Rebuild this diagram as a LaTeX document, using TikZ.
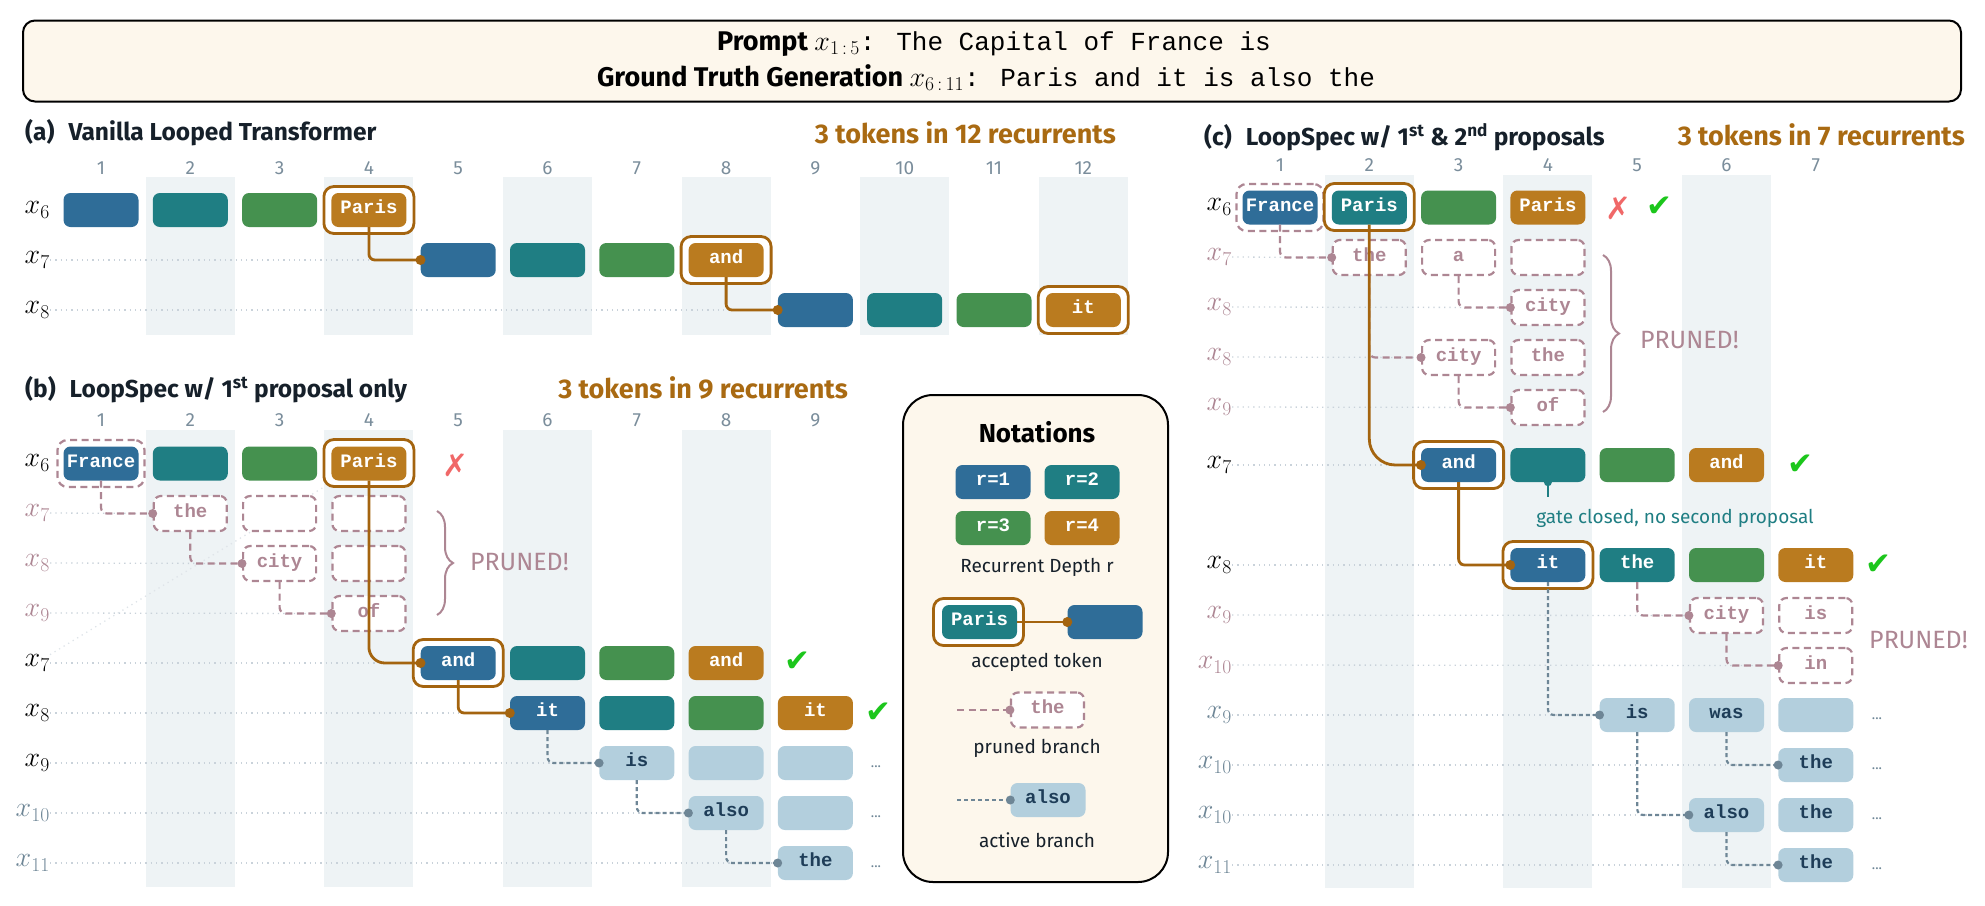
\RequirePackage{fix-cm}
\documentclass[tikz,border=0pt]{standalone}
\usepackage{fontspec}
\setmainfont{Fira Sans}
\newfontfamily\monof{Liberation Mono}
\newfontfamily\symf{DejaVu Sans}
\usetikzlibrary{decorations.pathreplacing}
\definecolor{cA}{HTML}{2F6D98}
\definecolor{cB}{HTML}{1F7E83}
\definecolor{cC}{HTML}{45914F}
\definecolor{cD}{HTML}{BA7B1F}
\definecolor{ringc}{HTML}{A4640F}
\definecolor{mauve}{HTML}{AD8693}
\definecolor{lightb}{HTML}{B3CFDD}
\definecolor{navyc}{HTML}{1E3D58}
\definecolor{agrey}{HTML}{6E8696}
\definecolor{bandc}{HTML}{EEF3F5}
\definecolor{colnumc}{HTML}{7A8D9B}
\definecolor{guidec}{HTML}{C9D2DA}
\definecolor{titlebr}{HTML}{A96A12}
\definecolor{checkc}{HTML}{1CC61C}
\definecolor{crossc}{HTML}{F06868}
\definecolor{cream}{HTML}{FDF7EC}
\definecolor{inkc}{HTML}{16202A}
\pgfdeclarelayer{bg}
\pgfdeclarelayer{mid}
\pgfsetlayers{bg,mid,main}
\newcommand\tokf{\monof\bfseries\fontsize{19}{20}\selectfont}
\newcommand\labf{\fontsize{28}{30}\selectfont}
\newcommand\colf{\fontsize{19}{20}\selectfont}
\newcommand\ttlf{\bfseries\fontsize{24.5}{26}\selectfont}
\newcommand\cntf{\bfseries\fontsize{27}{28}\selectfont}
\newcommand\prf{\fontsize{25}{26}\selectfont}
\newcommand\notf{\fontsize{19}{21}\selectfont}
\newcommand\mkf{\symf\fontsize{31}{32}\selectfont}
\newcommand\hdrf{\bfseries\fontsize{27}{29}\selectfont}
\newcommand\hdrm{\fontsize{28}{30}\selectfont}
\newcommand\hdrmono{\monof\fontsize{26}{28}\selectfont}
\begin{document}
\begin{tikzpicture}[x=1pt,y=-1pt,
  tok/.style={rounded corners=7pt, minimum width=75pt, minimum height=34pt, inner sep=0pt, font=\tokf, text=white, text height=10.5pt, text depth=3.5pt},
  r1/.style={tok, fill=cA}, r2/.style={tok, fill=cB}, r3/.style={tok, fill=cC}, r4/.style={tok, fill=cD},
  prn/.style={tok, draw=mauve, line width=2.2pt, dash pattern=on 7pt off 4.5pt, fill=white, text=mauve, minimum width=73pt, minimum height=35pt},
  actb/.style={tok, fill=lightb, text=navyc},
  ring/.style={draw=ringc, line width=2.8pt, fill=white, rounded corners=10pt, minimum width=90pt, minimum height=47pt, inner sep=0pt},
  pring/.style={draw=mauve, line width=2.2pt, dash pattern=on 7pt off 4.5pt, fill=white, rounded corners=10pt, minimum width=87pt, minimum height=47pt, inner sep=0pt},
  accl/.style={draw=ringc, line width=2.8pt},
  prl/.style={draw=mauve, line width=2.2pt, dash pattern=on 7pt off 4.5pt, rounded corners=6pt},
  actl/.style={draw=agrey, line width=2.2pt, dash pattern=on 4pt off 3pt, rounded corners=6pt},
  guide/.style={draw=guidec, line width=1.3pt, dash pattern=on 1.3pt off 4pt},
  band/.style={fill=bandc, draw=none},
  colnum/.style={text=colnumc, font=\colf, inner sep=0pt},
  rowlab/.style={anchor=east, inner sep=0pt, font=\labf, text=black},
  ttl/.style={anchor=west, font=\ttlf, text=inkc, inner sep=0pt},
  cnt/.style={anchor=east, font=\cntf, text=titlebr, inner sep=0pt},
  prun/.style={anchor=west, font=\prf, text=mauve, inner sep=0pt},
  mk/.style={font=\mkf, inner sep=0pt},
  dotsn/.style={font=\fontsize{14}{14}\selectfont, text=agrey, inner sep=0pt},
  notel/.style={font=\notf, text=inkc, inner sep=0pt},
  brc/.style={draw=mauve, line width=2pt, decorate, decoration={brace, amplitude=16pt}}
]
\useasboundingbox (0,0) rectangle (1985,905);

% ---------------- header
\node[draw=black, line width=2pt, rounded corners=12pt, fill=cream, minimum width=1938pt, minimum height=81pt, inner sep=0pt] (hdr) at (992,61) {};
\node[inner sep=0pt, anchor=base] (hl1) at (994,50) {{\hdrf Prompt }{\hdrm$x_{1\,:\,5}$}{\hdrmono: The Capital of France is}};
\node[inner sep=0pt, anchor=base] (hl2) at (986,86) {{\hdrf Ground Truth Generation }{\hdrm$x_{6\,:\,11}$}{\hdrmono: Paris and it is also the}};

% ---------------- bands
\begin{pgfonlayer}{bg}
\foreach \k in {2,4,...,12} \fill[band] ({101+89.3*(\k-1)-44.5},177) rectangle ++(89,158);
\foreach \k in {2,4,6,8} \fill[band] ({101+89.3*(\k-1)-44.5},430) rectangle ++(89,457);
\foreach \k in {2,4,6} \fill[band] ({1280+89.3*(\k-1)-44.5},175) rectangle ++(89,713);
\end{pgfonlayer}

% ---------------- panel (a)
\node[ttl] (ta) at (25,133) {(a)\hspace{14pt}Vanilla Looped Transformer};
\node[cnt] (tca) at (1116,133) {3 tokens in 12 recurrents};
\foreach \k in {1,...,12} \node[colnum] (acn\k) at ({101+89.3*(\k-1)},168) {\k};
\node[rowlab] (al6) at (50,210) {$x_{6}$};
\node[rowlab] (al7) at (50,260) {$x_{7}$};
\node[rowlab] (al8) at (50,310) {$x_{8}$};
\node[r1] (a61) at (101,210) {};
\node[r2] (a62) at (190.3,210) {};
\node[r3] (a63) at (279.6,210) {};
\node[ring] (a64r) at (368.9,210) {};
\node[r4] (a64) at (368.9,210) {Paris};
\node[r1] (a75) at (458.2,260) {};
\node[r2] (a76) at (547.5,260) {};
\node[r3] (a77) at (636.8,260) {};
\node[ring] (a78r) at (726.1,260) {};
\node[r4] (a78) at (726.1,260) {and};
\node[r1] (a89) at (815.4,310) {};
\node[r2] (a810) at (904.7,310) {};
\node[r3] (a811) at (994.0,310) {};
\node[ring] (a812r) at (1083.3,310) {};
\node[r4] (a812) at (1083.3,310) {it};
\begin{pgfonlayer}{mid}
\draw[guide] (al7.east) -- (a75.west);
\draw[guide] (al8.east) -- (a89.west);
\end{pgfonlayer}
\draw[accl, rounded corners=6pt] (a64.south) |- (a75.west);
\fill[ringc] (a75.west) circle[radius=5pt];
\draw[accl, rounded corners=6pt] (a78.south) |- (a89.west);
\fill[ringc] (a89.west) circle[radius=5pt];

% ---------------- panel (b)
\node[ttl] (tb) at (25,390) {(b)\hspace{14pt}LoopSpec w/ 1\textsuperscript{st} proposal only};
\node[cnt] (tcb) at (848,388) {3 tokens in 9 recurrents};
\foreach \k in {1,...,9} \node[colnum] (bcn\k) at ({101+89.3*(\k-1)},420) {\k};
\node[rowlab] (bl6) at (50,463) {$x_{6}$};
\node[rowlab, text=mauve] (bl7p) at (50,513) {$x_{7}$};
\node[rowlab, text=mauve] (bl8p) at (50,563) {$x_{8}$};
\node[rowlab, text=mauve] (bl9p) at (50,613) {$x_{9}$};
\node[rowlab] (bl7) at (50,663) {$x_{7}$};
\node[rowlab] (bl8) at (50,713) {$x_{8}$};
\node[rowlab] (bl9) at (50,763) {$x_{9}$};
\node[rowlab, text=agrey] (bl10) at (50,813) {$x_{10}$};
\node[rowlab, text=agrey] (bl11) at (50,863) {$x_{11}$};

\node[pring] (b61r) at (101,463.5) {};
\node[r1] (b61) at (101,463.5) {France};
\node[r2] (b62) at (190.3,463.5) {};
\node[r3] (b63) at (279.6,463.5) {};
\node[ring] (b64r) at (368.9,463) {};
\node[r4] (b64) at (368.9,463.5) {Paris};
\node[mk, text=crossc] (bx) at (455,465) {✗};
\node[prn] (pb72) at (190.3,513.5) {the};
\node[prn] (pb73) at (279.6,513.5) {};
\node[prn] (pb74) at (368.9,513.5) {};
\node[prn] (pb83) at (279.6,563.5) {city};
\node[prn] (pb84) at (368.9,563.5) {};
\node[prn] (pb94) at (368.9,613.5) {of};
\draw[brc] (437,511) -- (437,615);
\node[prun] (bpr) at (470,562) {PRUNED!};
\node[ring] (b75r) at (458.2,663) {};
\node[r1] (b75) at (458.2,663) {and};
\node[r2] (b76) at (547.5,663) {};
\node[r3] (b77) at (636.8,663) {};
\node[r4] (b78) at (726.1,663) {and};
\node[mk, text=checkc] (bc1) at (797,662) {✔};
\node[r1] (b86) at (547.5,713) {it};
\node[r2] (b87) at (636.8,713) {};
\node[r3] (b88) at (726.1,713) {};
\node[r4] (b89) at (815.4,713) {it};
\node[mk, text=checkc] (bc2) at (878,713) {✔};
\node[actb] (b97) at (636.8,763) {is};
\node[actb] (b98) at (726.1,763) {};
\node[actb] (b99) at (815.4,763) {};
\node[dotsn] (bd9) at (876,767) {...};
\node[actb] (b108) at (726.1,813) {also};
\node[actb] (b109) at (815.4,813) {};
\node[dotsn] (bd10) at (876,817) {...};
\node[actb] (b119) at (815.4,863) {the};
\node[dotsn] (bd11) at (876,867) {...};
\begin{pgfonlayer}{mid}
\draw[guide] (bl7p.east) -- (pb72.west);
\draw[guide] (bl8p.east) -- (pb83.west);
\draw[guide] (bl9p.east) -- (pb94.west);
\draw[guide] (bl7.east) -- (b75r.west);
\draw[guide] (bl8.east) -- (b86.west);
\draw[guide] (bl9.east) -- (b97.west);
\draw[guide] (bl10.east) -- (b108.west);
\draw[guide] (bl11.east) -- (b119.west);
\draw[guide, draw=guidec!60] (bl7.north east) -- (b64r.south west);
\end{pgfonlayer}
\draw[prl] (b61.south) |- (pb72.west);
\fill[mauve] (pb72.west) circle[radius=4.5pt];
\draw[prl] (pb72.south) |- (pb83.west);
\fill[mauve] (pb83.west) circle[radius=4.5pt];
\draw[prl] (pb83.south) |- (pb94.west);
\fill[mauve] (pb94.west) circle[radius=4.5pt];
\draw[accl, rounded corners=16pt] (b64.south) |- (b75.west);
\fill[ringc] (b75.west) circle[radius=5pt];
\draw[accl, rounded corners=6pt] (b75.south) |- (b86.west);
\fill[ringc] (b86.west) circle[radius=5pt];
\draw[actl] (b86.south) |- (b97.west);
\fill[agrey] (b97.west) circle[radius=4.5pt];
\draw[actl] (b97.south) |- (b108.west);
\fill[agrey] (b108.west) circle[radius=4.5pt];
\draw[actl] (b108.south) |- (b119.west);
\fill[agrey] (b119.west) circle[radius=4.5pt];

% ---------------- notations
\node[draw=black, line width=2pt, rounded corners=30pt, fill=cream, minimum width=265pt, minimum height=487pt, inner sep=0pt] (nb) at (1035.5,638.5) {};
\node[font=\bfseries\fontsize{26}{28}\selectfont, text=black, inner sep=0pt] (nt) at (1037,432) {Notations};
\node[r1] (n1) at (993,482) {r=1};
\node[r2] (n2) at (1082,482) {r=2};
\node[r3] (n3) at (993,528) {r=3};
\node[r4] (n4) at (1082,528) {r=4};
\node[notel] (nl1) at (1037,567) {Recurrent Depth r};
\node[ring] (npr) at (978.5,622) {};
\node[r2] (np) at (979.5,622) {Paris};
\node[r1] (nq) at (1105,622) {};
\draw[accl] (np.east) -- (nq.west);
\fill[ringc] (nq.west) circle[radius=5pt];
\node[notel] (nl2) at (1037,662) {accepted token};
\coordinate (ns1) at (957,710);
\node[prn] (nth) at (1047.5,710) {the};
\draw[prl] (ns1) -- (nth.west);
\fill[mauve] (nth.west) circle[radius=4.5pt];
\node[notel] (nl3) at (1037,748) {pruned branch};
\coordinate (ns2) at (957,800);
\node[actb] (nal) at (1048,800) {also};
\draw[actl] (ns2) -- (nal.west);
\fill[agrey] (nal.west) circle[radius=4.5pt];
\node[notel] (nl4) at (1037,840) {active branch};

% ---------------- panel (c)
\node[ttl] (tc) at (1204,137) {(c)\hspace{14pt}LoopSpec w/ 1\textsuperscript{st} \& 2\textsuperscript{nd} proposals};
\node[cnt] (tcc) at (1965,135) {3 tokens in 7 recurrents};
\foreach \k in {1,...,7} \node[colnum] (ccn\k) at ({1280+89.3*(\k-1)},165) {\k};
\node[rowlab] (cl6) at (1232,207) {$x_{6}$};
\node[rowlab, text=mauve] (cl7p) at (1232,257) {$x_{7}$};
\node[rowlab, text=mauve] (cl8p) at (1232,307) {$x_{8}$};
\node[rowlab, text=mauve] (cl8q) at (1232,357) {$x_{8}$};
\node[rowlab, text=mauve] (cl9p) at (1232,407) {$x_{9}$};
\node[rowlab] (cl7) at (1232,465) {$x_{7}$};
\node[rowlab] (cl8) at (1232,565) {$x_{8}$};
\node[rowlab, text=mauve] (cl9q) at (1232,615) {$x_{9}$};
\node[rowlab, text=mauve] (cl10q) at (1232,665) {$x_{10}$};
\node[rowlab, text=agrey] (cl9) at (1232,715) {$x_{9}$};
\node[rowlab, text=agrey] (cl10) at (1232,765) {$x_{10}$};
\node[rowlab, text=agrey] (cl10b) at (1232,815) {$x_{10}$};
\node[rowlab, text=agrey] (cl11) at (1232,865) {$x_{11}$};

\node[pring] (c61r) at (1280,207.5) {};
\node[r1] (c61) at (1280,207.5) {France};
\node[ring] (c62r) at (1369.3,207) {};
\node[r2] (c62) at (1369.3,207.5) {Paris};
\node[r3] (c63) at (1458.6,207.5) {};
\node[r4] (c64) at (1547.9,207.5) {Paris};
\node[mk, text=crossc] (cx) at (1618,208) {✗};
\node[mk, text=checkc] (cc0) at (1659,207) {✔};
\node[prn] (pc72) at (1369.3,257.5) {the};
\node[prn] (pc73) at (1458.6,257.5) {a};
\node[prn] (pc74) at (1547.9,257.5) {};
\node[prn] (pc84) at (1547.9,307.5) {city};
\node[prn] (pc83b) at (1458.6,357.5) {city};
\node[prn] (pc84b) at (1547.9,357.5) {the};
\node[prn] (pc94) at (1547.9,407.5) {of};
\draw[brc] (1603,255) -- (1603,412);
\node[prun] (cpr1) at (1640,340) {PRUNED!};

\node[ring] (c73r) at (1458.6,465) {};
\node[r1] (c73) at (1458.6,465) {and};
\node[r2] (c74) at (1547.9,465) {};
\node[r3] (c75) at (1637.2,465) {};
\node[r4] (c76) at (1726.5,465) {and};
\node[mk, text=checkc] (cc1) at (1800,465) {✔};
\coordinate (cgate) at (1547.9,497);
\draw[draw=cB, line width=2.2pt] (c74.south) -- (cgate);
\fill[cB] (c74.south) circle[radius=4pt];
\node[font=\notf, text=cB, inner sep=0pt] (cgt) at (1675,518) {gate closed, no second proposal};

\node[ring] (c84r) at (1547.9,565) {};
\node[r1] (c84) at (1547.9,565) {it};
\node[r2] (c85) at (1637.2,565) {the};
\node[r3] (c86) at (1726.5,565) {};
\node[r4] (c87) at (1815.8,565) {it};
\node[mk, text=checkc] (cc2) at (1878,565) {✔};
\node[prn] (pc96) at (1726.5,615.5) {city};
\node[prn] (pc97) at (1815.8,615.5) {is};
\node[prn] (pc107) at (1815.8,665.5) {in};
\node[prun] (cpr2) at (1869,640) {PRUNED!};

\node[actb] (c95) at (1637.2,715) {is};
\node[actb] (c96) at (1726.5,715) {was};
\node[actb] (c97) at (1815.8,715) {};
\node[dotsn] (cd9) at (1877,719) {...};
\node[actb] (c107) at (1815.8,765) {the};
\node[dotsn] (cd10) at (1877,769) {...};
\node[actb] (c106b) at (1726.5,815) {also};
\node[actb] (c107b) at (1815.8,815) {the};
\node[dotsn] (cd10b) at (1877,819) {...};
\node[actb] (c117) at (1815.8,865) {the};
\node[dotsn] (cd11) at (1877,869) {...};

\begin{pgfonlayer}{mid}
\draw[guide] (cl7p.east) -- (pc72.west);
\draw[guide] (cl8p.east) -- (pc84.west);
\draw[guide] (cl8q.east) -- (pc83b.west);
\draw[guide] (cl9p.east) -- (pc94.west);
\draw[guide] (cl7.east) -- (c73r.west);
\draw[guide] (cl8.east) -- (c84r.west);
\draw[guide] (cl9q.east) -- (pc96.west);
\draw[guide] (cl10q.east) -- (pc107.west);
\draw[guide] (cl9.east) -- (c95.west);
\draw[guide] (cl10.east) -- (c107.west);
\draw[guide] (cl10b.east) -- (c106b.west);
\draw[guide] (cl11.east) -- (c117.west);
\end{pgfonlayer}

\draw[prl] (c61.south) |- (pc72.west);
\fill[mauve] (pc72.west) circle[radius=4.5pt];
\draw[prl] (pc73.south) |- (pc84.west);
\fill[mauve] (pc84.west) circle[radius=4.5pt];
\draw[prl] (pc72.south) |- (pc83b.west);
\fill[mauve] (pc83b.west) circle[radius=4.5pt];
\draw[prl] (pc83b.south) |- (pc94.west);
\fill[mauve] (pc94.west) circle[radius=4.5pt];
\draw[prl] (c85.south) |- (pc96.west);
\fill[mauve] (pc96.west) circle[radius=4.5pt];
\draw[prl] (pc96.south) |- (pc107.west);
\fill[mauve] (pc107.west) circle[radius=4.5pt];

\draw[accl, rounded corners=26pt] (c62.south) |- (c73.west);
\fill[ringc] (c73.west) circle[radius=5pt];
\draw[accl, rounded corners=6pt] (c73.south) |- (c84.west);
\fill[ringc] (c84.west) circle[radius=5pt];

\draw[actl] (c84.south) |- (c95.west);
\fill[agrey] (c95.west) circle[radius=4.5pt];
\draw[actl] (c96.south) |- (c107.west);
\fill[agrey] (c107.west) circle[radius=4.5pt];
\draw[actl] (c95.south) |- (c106b.west);
\fill[agrey] (c106b.west) circle[radius=4.5pt];
\draw[actl] (c106b.south) |- (c117.west);
\fill[agrey] (c117.west) circle[radius=4.5pt];
\end{tikzpicture}
\end{document}
